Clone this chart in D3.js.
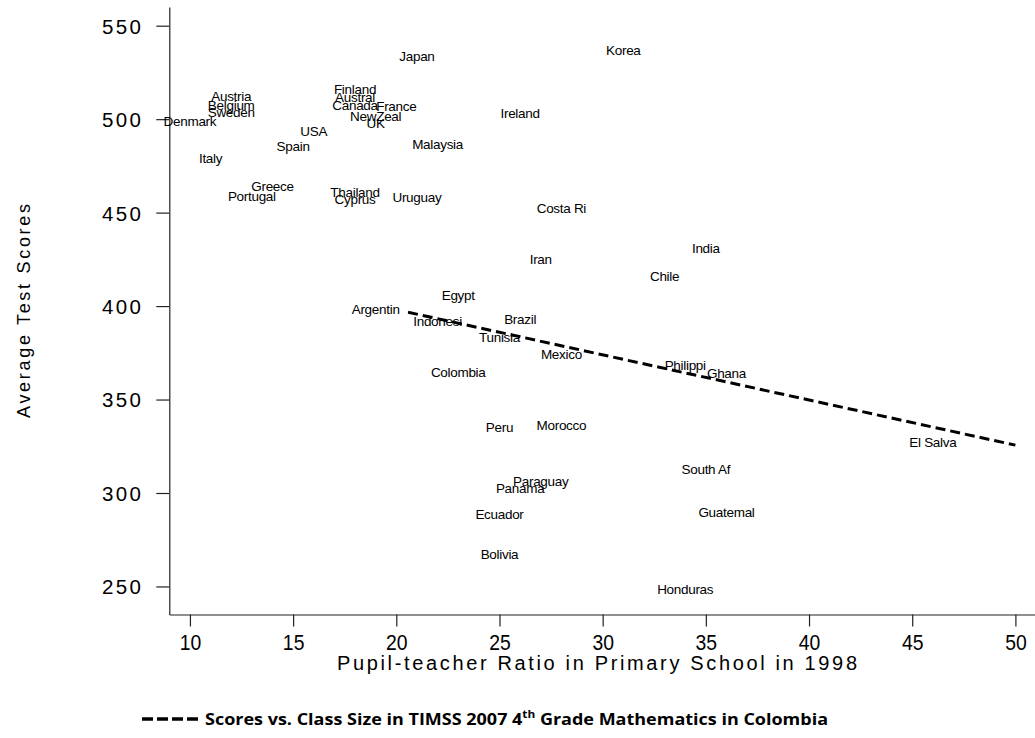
<!DOCTYPE html>
<html>
<head>
<meta charset="utf-8">
<script src="https://cdn.jsdelivr.net/npm/d3@7"></script>
<style>
  html, body { margin: 0; padding: 0; background: #fff; }
  svg { display: block; }
</style>
</head>
<body>
<svg id="chart" width="1035" height="738"></svg>
<script>
// Country labels, pupil-teacher ratio (1998) and average test score
const countries = ["Japan","Korea","Finland","Austral","Canada","France","NewZeal","UK",
  "Austria","Belgium","Sweden","Denmark","USA","Spain","Italy","Malaysia","Greece","Portugal",
  "Thailand","Cyprus","Uruguay","Ireland","Costa Ri","Iran","India","Chile","Philippi","Ghana",
  "El Salva","Egypt","Argentin","Indonesi","Brazil","Tunisia","Mexico","Colombia","Peru",
  "Morocco","South Af","Paraguay","Panama","Ecuador","Guatemal","Bolivia","Honduras"];
const ratio = [21,31,18,18,18,20,19,19,
  12,12,12,10,16,15,11,22,14,13,
  18,18,21,26,28,27,35,33,34,36,
  46,23,19,22,26,25,28,23,25,
  28,35,27,26,25,36,25,34];
const score = [533.9,537.1,516.2,511.9,507.7,507.1,501.8,498.0,
  512.1,507.7,503.7,499.1,493.4,485.7,479.1,486.8,464.3,458.6,
  461.2,457.2,458.2,503.4,452.4,425.1,431.0,416.1,368.5,364.0,
  327.4,405.9,398.3,391.7,392.9,383.6,374.4,364.4,335.4,
  336.4,312.8,306.4,302.4,288.7,289.8,267.3,248.4];

// Fitted line for Colombian schools (class size vs. score)
const fitRatio = [20.57, 50];
const fitScore = [396.7, 325.6];

const xTicks = [10,15,20,25,30,35,40,45,50];
const yTicks = [250,300,350,400,450,500,550];

const xTitle = "Pupil-teacher Ratio in Primary School in 1998";
const yTitle = "Average Test Scores";
const legendText = ["Scores vs. Class Size in TIMSS 2007 4", "th", " Grade Mathematics in Colombia"];

const svg = d3.select("#chart");
const font = "Arial, 'Liberation Sans', sans-serif";

const x = d3.scaleLinear().domain([9, 50.95]).range([169.3, 1035]);
const y = d3.scaleLinear().domain([235, 560]).range([614.5, 7]);

// Axes
const xAxis = svg.append("g")
  .attr("transform", `translate(0,${y(235)})`)
  .call(d3.axisBottom(x).tickValues(xTicks).tickSize(12).tickSizeOuter(0).tickFormat(d3.format("d")));
xAxis.select(".domain").attr("stroke", "#222").attr("stroke-width", 1.2);
xAxis.selectAll(".tick line").attr("stroke", "#222").attr("stroke-width", 1.2);
xAxis.selectAll(".tick text")
  .attr("font-family", font).attr("font-size", 22).attr("fill", "#000")
  .attr("y", 0).attr("dy", 0)
  .attr("transform", "translate(0,35) scale(0.88,1)");

const yAxis = svg.append("g")
  .attr("transform", `translate(${x(9)},0)`)
  .call(d3.axisLeft(y).tickValues(yTicks).tickSize(13).tickSizeOuter(0).tickFormat(d3.format("d")));
yAxis.select(".domain").attr("stroke", "#222").attr("stroke-width", 1.2);
yAxis.selectAll(".tick text")
  .attr("font-family", font).attr("font-size", 20.5).attr("fill", "#000")
  .attr("x", -26).attr("dy", "0.36em")
  .attr("letter-spacing", "2.4px");
yAxis.selectAll(".tick line").attr("stroke", "#222").attr("stroke-width", 1.2);

// Axis titles
svg.append("text")
  .attr("x", 597).attr("y", 670)
  .attr("text-anchor", "middle")
  .attr("font-family", font).attr("font-size", 20).attr("fill", "#000")
  .attr("textLength", 520).attr("lengthAdjust", "spacing")
  .text(xTitle);

svg.append("text")
  .attr("transform", "translate(30,311) rotate(-90)")
  .attr("text-anchor", "middle")
  .attr("font-family", font).attr("font-size", 18).attr("fill", "#000")
  .attr("textLength", 214).attr("lengthAdjust", "spacing")
  .text(yTitle);

// Country labels centred on their positions
svg.append("g").selectAll("text")
  .data(countries)
  .join("text")
  .attr("x", (d, i) => x(ratio[i]))
  .attr("y", (d, i) => y(score[i]))
  .attr("dy", "0.36em")
  .attr("text-anchor", "middle")
  .attr("font-family", font).attr("font-size", 13.5).attr("fill", "#000")
  .attr("letter-spacing", "-0.3px")
  .text(d => d);

// Fitted dashed line
const fitPts = fitRatio.map((r, i) => [x(r), y(fitScore[i])]);
svg.append("path")
  .attr("d", d3.line()(fitPts))
  .attr("fill", "none").attr("stroke", "#000")
  .attr("stroke-width", 3).attr("stroke-dasharray", "10,5");

// Legend
svg.append("line")
  .attr("x1", 142).attr("x2", 198).attr("y1", 719).attr("y2", 719)
  .attr("stroke", "#000").attr("stroke-width", 3.5).attr("stroke-dasharray", "11,4");
const lt = svg.append("text")
  .attr("x", 205).attr("y", 725)
  .attr("font-family", "'Open Sans', Lato, sans-serif").attr("font-weight", "bold")
  .attr("font-size", 16).attr("fill", "#000")
  .attr("textLength", 623).attr("lengthAdjust", "spacingAndGlyphs");
lt.append("tspan").text(legendText[0]);
lt.append("tspan").attr("font-size", 10.5).attr("dy", -7).text(legendText[1]);
lt.append("tspan").attr("dy", 7).text(legendText[2]);
</script>
</body>
</html>
